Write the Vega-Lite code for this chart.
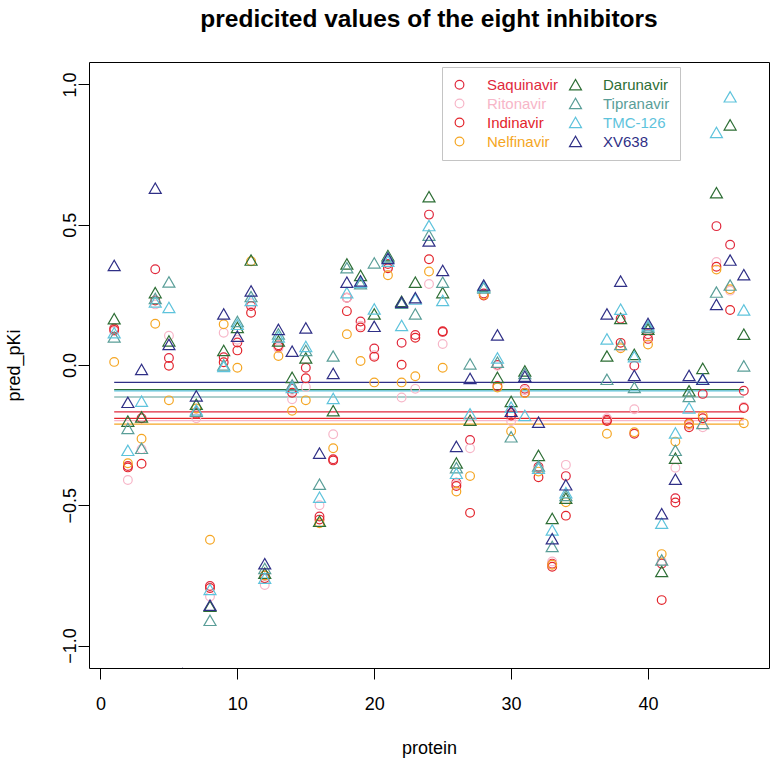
{
  "$schema": "https://vega.github.io/schema/vega-lite/v6.json",
  "width": 680,
  "height": 606,
  "autosize": "none",
  "padding": {"left": 89, "top": 62, "right": 3, "bottom": 98},
  "background": "white",
  "title": {"text": "predicited values of the eight inhibitors", "font": "Liberation Sans", "fontSize": 24.5, "fontWeight": "bold", "anchor": "middle", "offset": 30, "color": "black"},
  "config": {
    "view": {"stroke": "black", "strokeWidth": 1},
    "axis": {"domain": false, "grid": false, "tickColor": "black", "tickSize": 11, "tickWidth": 1, "labelFont": "Liberation Sans", "labelFontSize": 18, "labelColor": "black", "titleFont": "Liberation Sans", "titleFontSize": 18, "titleFontWeight": "normal", "titleColor": "black", "labelFlush": false, "labelOverlap": false}
  },
  "datasets": {
    "means": [
      {"d": "Saquinavir", "v": -0.167},
      {"d": "Ritonavir", "v": -0.198},
      {"d": "Indinavir", "v": -0.19},
      {"d": "Nelfinavir", "v": -0.211},
      {"d": "Darunavir", "v": -0.088},
      {"d": "Tipranavir", "v": -0.114},
      {"d": "TMC-126", "v": -0.092},
      {"d": "XV638", "v": -0.062}
    ],
    "pts": [
      {"p":1,"d":"Saquinavir","v":0.13},{"p":1,"d":"Ritonavir","v":0.12},{"p":1,"d":"Indinavir","v":0.125},{"p":1,"d":"Nelfinavir","v":0.011},{"p":1,"d":"Darunavir","v":0.165},{"p":1,"d":"Tipranavir","v":0.1},{"p":1,"d":"TMC-126","v":0.115},{"p":1,"d":"XV638","v":0.355},
      {"p":2,"d":"Saquinavir","v":-0.36},{"p":2,"d":"Ritonavir","v":-0.41},{"p":2,"d":"Indinavir","v":-0.365},{"p":2,"d":"Nelfinavir","v":-0.35},{"p":2,"d":"Darunavir","v":-0.2},{"p":2,"d":"Tipranavir","v":-0.226},{"p":2,"d":"TMC-126","v":-0.304},{"p":2,"d":"XV638","v":-0.133},
      {"p":3,"d":"Saquinavir","v":-0.19},{"p":3,"d":"Ritonavir","v":-0.3},{"p":3,"d":"Indinavir","v":-0.352},{"p":3,"d":"Nelfinavir","v":-0.263},{"p":3,"d":"Darunavir","v":-0.185},{"p":3,"d":"Tipranavir","v":-0.297},{"p":3,"d":"TMC-126","v":-0.129},{"p":3,"d":"XV638","v":-0.016},
      {"p":4,"d":"Saquinavir","v":0.341},{"p":4,"d":"Ritonavir","v":0.216},{"p":4,"d":"Indinavir","v":0.23},{"p":4,"d":"Nelfinavir","v":0.147},{"p":4,"d":"Darunavir","v":0.258},{"p":4,"d":"Tipranavir","v":0.237},{"p":4,"d":"TMC-126","v":0.225},{"p":4,"d":"XV638","v":0.63},
      {"p":5,"d":"Saquinavir","v":0.025},{"p":5,"d":"Ritonavir","v":0.104},{"p":5,"d":"Indinavir","v":-0.003},{"p":5,"d":"Nelfinavir","v":-0.126},{"p":5,"d":"Darunavir","v":0.086},{"p":5,"d":"Tipranavir","v":0.296},{"p":5,"d":"TMC-126","v":0.205},{"p":5,"d":"XV638","v":0.073},
      {"p":6,"d":"XV638","v":-1.1},
      {"p":7,"d":"Saquinavir","v":-0.17},{"p":7,"d":"Ritonavir","v":-0.19},{"p":7,"d":"Indinavir","v":-0.175},{"p":7,"d":"Nelfinavir","v":-0.155},{"p":7,"d":"Darunavir","v":-0.14},{"p":7,"d":"Tipranavir","v":-0.165},{"p":7,"d":"TMC-126","v":-0.16},{"p":7,"d":"XV638","v":-0.11},
      {"p":8,"d":"Saquinavir","v":-0.788},{"p":8,"d":"Ritonavir","v":-0.825},{"p":8,"d":"Indinavir","v":-0.795},{"p":8,"d":"Nelfinavir","v":-0.623},{"p":8,"d":"Darunavir","v":-0.86},{"p":8,"d":"Tipranavir","v":-0.91},{"p":8,"d":"TMC-126","v":-0.8},{"p":8,"d":"XV638","v":-0.856},
      {"p":9,"d":"Saquinavir","v":0.028},{"p":9,"d":"Ritonavir","v":0.115},{"p":9,"d":"Indinavir","v":0.01},{"p":9,"d":"Nelfinavir","v":0.145},{"p":9,"d":"Darunavir","v":0.052},{"p":9,"d":"Tipranavir","v":0.0},{"p":9,"d":"TMC-126","v":-0.005},{"p":9,"d":"XV638","v":0.182},
      {"p":10,"d":"Saquinavir","v":0.08},{"p":10,"d":"Ritonavir","v":0.09},{"p":10,"d":"Indinavir","v":0.052},{"p":10,"d":"Nelfinavir","v":-0.01},{"p":10,"d":"Darunavir","v":0.134},{"p":10,"d":"Tipranavir","v":0.155},{"p":10,"d":"TMC-126","v":0.145},{"p":10,"d":"XV638","v":0.103},
      {"p":11,"d":"Saquinavir","v":0.21},{"p":11,"d":"Ritonavir","v":0.22},{"p":11,"d":"Indinavir","v":0.186},{"p":11,"d":"Nelfinavir","v":0.37},{"p":11,"d":"Darunavir","v":0.374},{"p":11,"d":"Tipranavir","v":0.244},{"p":11,"d":"TMC-126","v":0.23},{"p":11,"d":"XV638","v":0.264},
      {"p":12,"d":"Saquinavir","v":-0.75},{"p":12,"d":"Ritonavir","v":-0.784},{"p":12,"d":"Indinavir","v":-0.76},{"p":12,"d":"Nelfinavir","v":-0.75},{"p":12,"d":"Darunavir","v":-0.742},{"p":12,"d":"Tipranavir","v":-0.725},{"p":12,"d":"TMC-126","v":-0.76},{"p":12,"d":"XV638","v":-0.708},
      {"p":13,"d":"Saquinavir","v":0.066},{"p":13,"d":"Ritonavir","v":0.06},{"p":13,"d":"Indinavir","v":0.07},{"p":13,"d":"Nelfinavir","v":0.032},{"p":13,"d":"Darunavir","v":0.086},{"p":13,"d":"Tipranavir","v":0.111},{"p":13,"d":"TMC-126","v":0.1},{"p":13,"d":"XV638","v":0.127},
      {"p":14,"d":"Saquinavir","v":-0.085},{"p":14,"d":"Ritonavir","v":-0.122},{"p":14,"d":"Indinavir","v":-0.099},{"p":14,"d":"Nelfinavir","v":-0.163},{"p":14,"d":"Darunavir","v":-0.044},{"p":14,"d":"Tipranavir","v":-0.071},{"p":14,"d":"TMC-126","v":-0.08},{"p":14,"d":"XV638","v":0.049},
      {"p":15,"d":"Saquinavir","v":-0.01},{"p":15,"d":"Ritonavir","v":-0.078},{"p":15,"d":"Indinavir","v":-0.047},{"p":15,"d":"Nelfinavir","v":-0.126},{"p":15,"d":"Darunavir","v":0.025},{"p":15,"d":"Tipranavir","v":0.052},{"p":15,"d":"TMC-126","v":0.066},{"p":15,"d":"XV638","v":0.132},
      {"p":16,"d":"Saquinavir","v":-0.54},{"p":16,"d":"Ritonavir","v":-0.5},{"p":16,"d":"Indinavir","v":-0.551},{"p":16,"d":"Nelfinavir","v":-0.564},{"p":16,"d":"Darunavir","v":-0.557},{"p":16,"d":"Tipranavir","v":-0.425},{"p":16,"d":"TMC-126","v":-0.471},{"p":16,"d":"XV638","v":-0.314},
      {"p":17,"d":"Saquinavir","v":-0.336},{"p":17,"d":"Ritonavir","v":-0.247},{"p":17,"d":"Indinavir","v":-0.34},{"p":17,"d":"Nelfinavir","v":-0.297},{"p":17,"d":"Darunavir","v":-0.163},{"p":17,"d":"Tipranavir","v":0.032},{"p":17,"d":"TMC-126","v":-0.119},{"p":17,"d":"XV638","v":-0.03},
      {"p":18,"d":"Saquinavir","v":0.24},{"p":18,"d":"Ritonavir","v":0.24},{"p":18,"d":"Indinavir","v":0.192},{"p":18,"d":"Nelfinavir","v":0.11},{"p":18,"d":"Darunavir","v":0.36},{"p":18,"d":"Tipranavir","v":0.347},{"p":18,"d":"TMC-126","v":0.258},{"p":18,"d":"XV638","v":0.295},
      {"p":19,"d":"Saquinavir","v":0.155},{"p":19,"d":"Ritonavir","v":0.14},{"p":19,"d":"Indinavir","v":0.134},{"p":19,"d":"Nelfinavir","v":0.014},{"p":19,"d":"Darunavir","v":0.319},{"p":19,"d":"Tipranavir","v":0.29},{"p":19,"d":"TMC-126","v":0.295},{"p":19,"d":"XV638","v":0.3},
      {"p":20,"d":"Saquinavir","v":0.059},{"p":20,"d":"Ritonavir","v":0.035},{"p":20,"d":"Indinavir","v":0.029},{"p":20,"d":"Nelfinavir","v":-0.062},{"p":20,"d":"Darunavir","v":0.182},{"p":20,"d":"Tipranavir","v":0.364},{"p":20,"d":"TMC-126","v":0.2},{"p":20,"d":"XV638","v":0.138},
      {"p":21,"d":"Saquinavir","v":0.36},{"p":21,"d":"Ritonavir","v":0.35},{"p":21,"d":"Indinavir","v":0.345},{"p":21,"d":"Nelfinavir","v":0.32},{"p":21,"d":"Darunavir","v":0.39},{"p":21,"d":"Tipranavir","v":0.385},{"p":21,"d":"TMC-126","v":0.37},{"p":21,"d":"XV638","v":0.38},
      {"p":22,"d":"Saquinavir","v":0.079},{"p":22,"d":"Ritonavir","v":-0.116},{"p":22,"d":"Indinavir","v":0.001},{"p":22,"d":"Nelfinavir","v":-0.062},{"p":22,"d":"Darunavir","v":0.227},{"p":22,"d":"Tipranavir","v":0.22},{"p":22,"d":"TMC-126","v":0.141},{"p":22,"d":"XV638","v":0.224},
      {"p":23,"d":"Saquinavir","v":0.107},{"p":23,"d":"Ritonavir","v":-0.085},{"p":23,"d":"Indinavir","v":0.097},{"p":23,"d":"Nelfinavir","v":-0.04},{"p":23,"d":"Darunavir","v":0.295},{"p":23,"d":"Tipranavir","v":0.182},{"p":23,"d":"TMC-126","v":0.235},{"p":23,"d":"XV638","v":0.24},
      {"p":24,"d":"Saquinavir","v":0.536},{"p":24,"d":"Ritonavir","v":0.289},{"p":24,"d":"Indinavir","v":0.377},{"p":24,"d":"Nelfinavir","v":0.333},{"p":24,"d":"Darunavir","v":0.6},{"p":24,"d":"Tipranavir","v":0.463},{"p":24,"d":"TMC-126","v":0.497},{"p":24,"d":"XV638","v":0.442},
      {"p":25,"d":"Saquinavir","v":0.118},{"p":25,"d":"Ritonavir","v":0.075},{"p":25,"d":"Indinavir","v":0.12},{"p":25,"d":"Nelfinavir","v":-0.01},{"p":25,"d":"Darunavir","v":0.258},{"p":25,"d":"Tipranavir","v":0.295},{"p":25,"d":"TMC-126","v":0.23},{"p":25,"d":"XV638","v":0.337},
      {"p":26,"d":"Saquinavir","v":-0.42},{"p":26,"d":"Ritonavir","v":-0.425},{"p":26,"d":"Indinavir","v":-0.431},{"p":26,"d":"Nelfinavir","v":-0.451},{"p":26,"d":"Darunavir","v":-0.349},{"p":26,"d":"Tipranavir","v":-0.366},{"p":26,"d":"TMC-126","v":-0.386},{"p":26,"d":"XV638","v":-0.29},
      {"p":27,"d":"Saquinavir","v":-0.267},{"p":27,"d":"Ritonavir","v":-0.297},{"p":27,"d":"Indinavir","v":-0.527},{"p":27,"d":"Nelfinavir","v":-0.396},{"p":27,"d":"Darunavir","v":-0.197},{"p":27,"d":"Tipranavir","v":0.004},{"p":27,"d":"TMC-126","v":-0.174},{"p":27,"d":"XV638","v":-0.048},
      {"p":28,"d":"Saquinavir","v":0.255},{"p":28,"d":"Ritonavir","v":0.25},{"p":28,"d":"Indinavir","v":0.248},{"p":28,"d":"Nelfinavir","v":0.25},{"p":28,"d":"Darunavir","v":0.28},{"p":28,"d":"Tipranavir","v":0.275},{"p":28,"d":"TMC-126","v":0.278},{"p":28,"d":"XV638","v":0.285},
      {"p":29,"d":"Saquinavir","v":0.0},{"p":29,"d":"Ritonavir","v":-0.003},{"p":29,"d":"Indinavir","v":-0.075},{"p":29,"d":"Nelfinavir","v":-0.08},{"p":29,"d":"Darunavir","v":-0.044},{"p":29,"d":"Tipranavir","v":0.01},{"p":29,"d":"TMC-126","v":0.025},{"p":29,"d":"XV638","v":0.107},
      {"p":30,"d":"Saquinavir","v":-0.171},{"p":30,"d":"Ritonavir","v":-0.2},{"p":30,"d":"Indinavir","v":-0.18},{"p":30,"d":"Nelfinavir","v":-0.236},{"p":30,"d":"Darunavir","v":-0.13},{"p":30,"d":"Tipranavir","v":-0.256},{"p":30,"d":"TMC-126","v":-0.15},{"p":30,"d":"XV638","v":-0.165},
      {"p":31,"d":"Saquinavir","v":-0.085},{"p":31,"d":"Ritonavir","v":-0.09},{"p":31,"d":"Indinavir","v":-0.099},{"p":31,"d":"Nelfinavir","v":-0.1},{"p":31,"d":"Darunavir","v":-0.021},{"p":31,"d":"Tipranavir","v":-0.03},{"p":31,"d":"TMC-126","v":-0.18},{"p":31,"d":"XV638","v":-0.04},
      {"p":32,"d":"Saquinavir","v":-0.363},{"p":32,"d":"Ritonavir","v":-0.37},{"p":32,"d":"Indinavir","v":-0.4},{"p":32,"d":"Nelfinavir","v":-0.38},{"p":32,"d":"Darunavir","v":-0.322},{"p":32,"d":"Tipranavir","v":-0.36},{"p":32,"d":"TMC-126","v":-0.368},{"p":32,"d":"XV638","v":-0.204},
      {"p":33,"d":"Saquinavir","v":-0.708},{"p":33,"d":"Ritonavir","v":-0.7},{"p":33,"d":"Indinavir","v":-0.719},{"p":33,"d":"Nelfinavir","v":-0.712},{"p":33,"d":"Darunavir","v":-0.547},{"p":33,"d":"Tipranavir","v":-0.647},{"p":33,"d":"TMC-126","v":-0.588},{"p":33,"d":"XV638","v":-0.619},
      {"p":34,"d":"Saquinavir","v":-0.396},{"p":34,"d":"Ritonavir","v":-0.356},{"p":34,"d":"Indinavir","v":-0.537},{"p":34,"d":"Nelfinavir","v":-0.489},{"p":34,"d":"Darunavir","v":-0.475},{"p":34,"d":"Tipranavir","v":-0.465},{"p":34,"d":"TMC-126","v":-0.455},{"p":34,"d":"XV638","v":-0.427},
      {"p":37,"d":"Saquinavir","v":-0.195},{"p":37,"d":"Ritonavir","v":-0.19},{"p":37,"d":"Indinavir","v":-0.2},{"p":37,"d":"Nelfinavir","v":-0.245},{"p":37,"d":"Darunavir","v":0.032},{"p":37,"d":"Tipranavir","v":-0.051},{"p":37,"d":"TMC-126","v":0.093},{"p":37,"d":"XV638","v":0.182},
      {"p":38,"d":"Saquinavir","v":0.165},{"p":38,"d":"Ritonavir","v":0.065},{"p":38,"d":"Indinavir","v":0.079},{"p":38,"d":"Nelfinavir","v":0.06},{"p":38,"d":"Darunavir","v":0.166},{"p":38,"d":"Tipranavir","v":0.073},{"p":38,"d":"TMC-126","v":0.199},{"p":38,"d":"XV638","v":0.299},
      {"p":39,"d":"Saquinavir","v":-0.003},{"p":39,"d":"Ritonavir","v":-0.158},{"p":39,"d":"Indinavir","v":-0.245},{"p":39,"d":"Nelfinavir","v":-0.24},{"p":39,"d":"Darunavir","v":0.038},{"p":39,"d":"Tipranavir","v":-0.08},{"p":39,"d":"TMC-126","v":0.03},{"p":39,"d":"XV638","v":-0.037},
      {"p":40,"d":"Saquinavir","v":0.11},{"p":40,"d":"Ritonavir","v":0.1},{"p":40,"d":"Indinavir","v":0.093},{"p":40,"d":"Nelfinavir","v":0.073},{"p":40,"d":"Darunavir","v":0.128},{"p":40,"d":"Tipranavir","v":0.135},{"p":40,"d":"TMC-126","v":0.14},{"p":40,"d":"XV638","v":0.148},
      {"p":41,"d":"Saquinavir","v":-0.708},{"p":41,"d":"Ritonavir","v":-0.7},{"p":41,"d":"Indinavir","v":-0.838},{"p":41,"d":"Nelfinavir","v":-0.674},{"p":41,"d":"Darunavir","v":-0.736},{"p":41,"d":"Tipranavir","v":-0.695},{"p":41,"d":"TMC-126","v":-0.564},{"p":41,"d":"XV638","v":-0.53},
      {"p":42,"d":"Saquinavir","v":-0.475},{"p":42,"d":"Ritonavir","v":-0.366},{"p":42,"d":"Indinavir","v":-0.49},{"p":42,"d":"Nelfinavir","v":-0.273},{"p":42,"d":"Darunavir","v":-0.332},{"p":42,"d":"Tipranavir","v":-0.304},{"p":42,"d":"TMC-126","v":-0.242},{"p":42,"d":"XV638","v":-0.407},
      {"p":43,"d":"Saquinavir","v":-0.208},{"p":43,"d":"Ritonavir","v":-0.215},{"p":43,"d":"Indinavir","v":-0.222},{"p":43,"d":"Nelfinavir","v":-0.21},{"p":43,"d":"Darunavir","v":-0.092},{"p":43,"d":"Tipranavir","v":-0.112},{"p":43,"d":"TMC-126","v":-0.153},{"p":43,"d":"XV638","v":-0.037},
      {"p":44,"d":"Saquinavir","v":-0.103},{"p":44,"d":"Ritonavir","v":-0.222},{"p":44,"d":"Indinavir","v":-0.19},{"p":44,"d":"Nelfinavir","v":-0.181},{"p":44,"d":"Darunavir","v":-0.012},{"p":44,"d":"Tipranavir","v":-0.208},{"p":44,"d":"TMC-126","v":-0.05},{"p":44,"d":"XV638","v":-0.051},
      {"p":45,"d":"Saquinavir","v":0.495},{"p":45,"d":"Ritonavir","v":0.367},{"p":45,"d":"Indinavir","v":0.35},{"p":45,"d":"Nelfinavir","v":0.34},{"p":45,"d":"Darunavir","v":0.614},{"p":45,"d":"Tipranavir","v":0.26},{"p":45,"d":"TMC-126","v":0.829},{"p":45,"d":"XV638","v":0.216},
      {"p":46,"d":"Saquinavir","v":0.429},{"p":46,"d":"Ritonavir","v":0.265},{"p":46,"d":"Indinavir","v":0.196},{"p":46,"d":"Nelfinavir","v":0.27},{"p":46,"d":"Darunavir","v":0.856},{"p":46,"d":"Tipranavir","v":0.285},{"p":46,"d":"TMC-126","v":0.956},{"p":46,"d":"XV638","v":0.374},
      {"p":47,"d":"Saquinavir","v":-0.092},{"p":47,"d":"Ritonavir","v":-0.15},{"p":47,"d":"Indinavir","v":-0.153},{"p":47,"d":"Nelfinavir","v":-0.208},{"p":47,"d":"Darunavir","v":0.11},{"p":47,"d":"Tipranavir","v":-0.003},{"p":47,"d":"TMC-126","v":0.196},{"p":47,"d":"XV638","v":0.322}
    ]
  },
  "layer": [
    {"data": {"name": "means"}, "transform": [{"filter": {"field": "d", "equal": "Saquinavir"}}], "mark": {"type": "rule", "color": "#e0283c", "strokeWidth": 1.2},
     "encoding": {"x": {"datum": 1, "type": "quantitative", "scale": {"domain": [-0.84, 48.84], "nice": false, "zero": false}}, "x2": {"datum": 47}, "y": {"field": "v", "type": "quantitative", "scale": {"domain": [-1.08, 1.08], "nice": false, "zero": false}}}},
    {"data": {"name": "means"}, "transform": [{"filter": {"field": "d", "equal": "Ritonavir"}}], "mark": {"type": "rule", "color": "#f7b6c8", "strokeWidth": 1.2},
     "encoding": {"x": {"datum": 1, "type": "quantitative"}, "x2": {"datum": 47}, "y": {"field": "v", "type": "quantitative"}}},
    {"data": {"name": "means"}, "transform": [{"filter": {"field": "d", "equal": "Indinavir"}}], "mark": {"type": "rule", "color": "#e3242b", "strokeWidth": 1.2},
     "encoding": {"x": {"datum": 1, "type": "quantitative"}, "x2": {"datum": 47}, "y": {"field": "v", "type": "quantitative"}}},
    {"data": {"name": "means"}, "transform": [{"filter": {"field": "d", "equal": "Nelfinavir"}}], "mark": {"type": "rule", "color": "#f5a623", "strokeWidth": 1.2},
     "encoding": {"x": {"datum": 1, "type": "quantitative"}, "x2": {"datum": 47}, "y": {"field": "v", "type": "quantitative"}}},
    {"data": {"name": "means"}, "transform": [{"filter": {"field": "d", "equal": "Darunavir"}}], "mark": {"type": "rule", "color": "#2d6e35", "strokeWidth": 1.2},
     "encoding": {"x": {"datum": 1, "type": "quantitative"}, "x2": {"datum": 47}, "y": {"field": "v", "type": "quantitative"}}},
    {"data": {"name": "means"}, "transform": [{"filter": {"field": "d", "equal": "Tipranavir"}}], "mark": {"type": "rule", "color": "#5a9e98", "strokeWidth": 1.2},
     "encoding": {"x": {"datum": 1, "type": "quantitative"}, "x2": {"datum": 47}, "y": {"field": "v", "type": "quantitative"}}},
    {"data": {"name": "means"}, "transform": [{"filter": {"field": "d", "equal": "TMC-126"}}], "mark": {"type": "rule", "color": "#5ec3dc", "strokeWidth": 1.2},
     "encoding": {"x": {"datum": 1, "type": "quantitative"}, "x2": {"datum": 47}, "y": {"field": "v", "type": "quantitative"}}},
    {"data": {"name": "means"}, "transform": [{"filter": {"field": "d", "equal": "XV638"}}], "mark": {"type": "rule", "color": "#2f2f86", "strokeWidth": 1.2},
     "encoding": {"x": {"datum": 1, "type": "quantitative"}, "x2": {"datum": 47}, "y": {"field": "v", "type": "quantitative"}}},
    {
      "data": {"name": "pts"},
      "mark": {"type": "point", "filled": false, "strokeWidth": 1.2, "opacity": 1, "clip": true},
      "encoding": {
        "x": {"field": "p", "type": "quantitative", "scale": {"domain": [-0.84, 48.84], "nice": false, "zero": false},
              "axis": {"values": [0, 10, 20, 30, 40], "title": "protein", "labelPadding": 16, "titleY": 85, "titleBaseline": "alphabetic"}},
        "y": {"field": "v", "type": "quantitative", "scale": {"domain": [-1.08, 1.08], "nice": false, "zero": false},
              "axis": {"values": [-1, -0.5, 0, 0.5, 1], "format": ".1f", "labelAngle": -90, "labelAlign": "center", "labelBaseline": "alphabetic", "labelPadding": 3, "title": "pred_pKi", "titleX": -75, "titleBaseline": "middle"}},
        "color": {"field": "d", "type": "nominal",
          "scale": {"domain": ["Saquinavir","Ritonavir","Indinavir","Nelfinavir","Darunavir","Tipranavir","TMC-126","XV638"],
                    "range": ["#e0283c","#f7b6c8","#e3242b","#f5a623","#2d6e35","#5a9e98","#5ec3dc","#2f2f86"]},
          "legend": {"title": null, "orient": "none", "legendX": 353, "legendY": 5, "columns": 2, "padding": 10, "strokeColor": "#c4c4c4", "fillColor": "white",
                     "symbolSize": 784, "symbolStrokeWidth": 1.2, "symbolFillColor": "transparent",
                     "symbolType": {"expr": "indexof(['Saquinavir','Ritonavir','Indinavir','Nelfinavir'], datum.value) >= 0 ? 'M-1,0H1M0.32,0A0.32,0.32,0,1,1,-0.32,0A0.32,0.32,0,1,1,0.32,0' : 'M-1,0H1M0,-0.49L-0.43,0.25L0.43,0.25Z'"},
                     "labelFont": "Liberation Sans", "labelFontSize": 15, "labelOffset": 20,
                     "labelColor": {"expr": "datum.value==='Saquinavir'?'#e0283c':datum.value==='Ritonavir'?'#f7b6c8':datum.value==='Indinavir'?'#e3242b':datum.value==='Nelfinavir'?'#f5a623':datum.value==='Darunavir'?'#2d6e35':datum.value==='Tipranavir'?'#5a9e98':datum.value==='TMC-126'?'#5ec3dc':'#2f2f86'"},
                     "rowPadding": 2, "columnPadding": 9}},
        "shape": {"field": "d", "type": "nominal", "legend": null,
          "scale": {"domain": ["Saquinavir","Ritonavir","Indinavir","Nelfinavir","Darunavir","Tipranavir","TMC-126","XV638"],
                    "range": ["circle","circle","circle","circle","triangle-up","triangle-up","triangle-up","triangle-up"]}},
        "size": {"field": "d", "type": "nominal", "legend": null,
          "scale": {"type": "ordinal", "domain": ["Saquinavir","Ritonavir","Indinavir","Nelfinavir","Darunavir","Tipranavir","TMC-126","XV638"],
                    "range": [76, 76, 76, 76, 144, 144, 144, 144]}}
      }
    }
  ]
}
